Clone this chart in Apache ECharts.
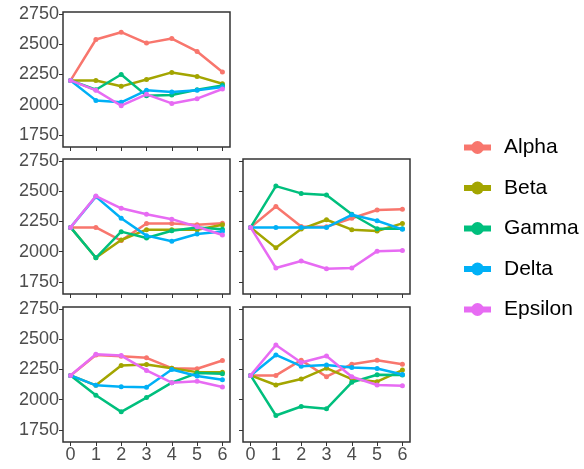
<!DOCTYPE html>
<html>
<head>
<meta charset="utf-8">
<script src="https://cdn.jsdelivr.net/npm/echarts@6/dist/echarts.min.js"></script>
<style>
html,body{margin:0;padding:0;background:#fff;}
#chart{width:584px;height:469px;}
</style>
</head>
<body>
<div id="chart"></div>
<script>
// x positions (time steps) and tick labels
const xValues = [0, 1, 2, 3, 4, 5, 6];
const xTickLabels = [0, 1, 2, 3, 4, 5, 6];
const yTickValues = [1750, 2000, 2250, 2500, 2750];
const seriesNames = ['Alpha', 'Beta', 'Gamma', 'Delta', 'Epsilon'];
const seriesColors = ['#F8766D', '#A3A500', '#00BF7D', '#00B0F6', '#E76BF3'];

// one row per panel: [top-left, middle-left, middle-right, bottom-left, bottom-right]
const alphaValues = [
  [2200, 2538, 2598, 2508, 2546, 2439, 2269],
  [2200, 2200, 2091, 2233, 2233, 2222, 2235],
  [2200, 2372, 2208, 2205, 2276, 2344, 2350],
  [2200, 2369, 2358, 2345, 2260, 2255, 2323],
  [2200, 2200, 2326, 2189, 2293, 2326, 2293]
];
const betaValues = [
  [2200, 2200, 2151, 2208, 2266, 2233, 2173],
  [2200, 1949, 2096, 2181, 2181, 2181, 2222],
  [2200, 2031, 2186, 2263, 2181, 2170, 2233],
  [2200, 2118, 2282, 2290, 2260, 2227, 2227],
  [2200, 2121, 2170, 2260, 2170, 2148, 2244]
];
const gammaValues = [
  [2200, 2123, 2249, 2074, 2079, 2123, 2159],
  [2200, 1949, 2165, 2113, 2173, 2200, 2185],
  [2200, 2541, 2481, 2467, 2309, 2189, 2189],
  [2200, 2036, 1899, 2017, 2140, 2219, 2214],
  [2200, 1869, 1943, 1924, 2143, 2205, 2203]
];
const deltaValues = [
  [2200, 2035, 2019, 2118, 2104, 2118, 2145],
  [2200, 2454, 2276, 2132, 2086, 2145, 2167],
  [2200, 2200, 2200, 2200, 2304, 2255, 2184],
  [2200, 2118, 2107, 2102, 2249, 2195, 2164],
  [2200, 2369, 2276, 2285, 2266, 2257, 2208]
];
const epsilonValues = [
  [2200, 2118, 1991, 2085, 2010, 2049, 2129],
  [2200, 2459, 2358, 2309, 2268, 2205, 2137],
  [2200, 1865, 1922, 1859, 1865, 2004, 2009],
  [2200, 2375, 2364, 2241, 2140, 2151, 2104],
  [2200, 2451, 2307, 2361, 2189, 2121, 2115]
];
const allValues = [alphaValues, betaValues, gammaValues, deltaValues, epsilonValues];

// panel layout
const panels = [
  {left: 63,  top: 12,  showX: false, showY: true},
  {left: 63,  top: 159, showX: false, showY: true},
  {left: 243, top: 159, showX: false, showY: false},
  {left: 63,  top: 307, showX: true,  showY: true},
  {left: 243, top: 307, showX: true,  showY: false}
];
const PW = 167, PH = 135;
const FONT = 'Liberation Sans, Arial, sans-serif';

const grids = [], xAxes = [], yAxes = [], series = [];
panels.forEach((p, i) => {
  grids.push({
    left: p.left, top: p.top, width: PW, height: PH,
    show: true, borderColor: '#333333', borderWidth: 1.5,
    backgroundColor: 'transparent', containLabel: false
  });
  xAxes.push({
    type: 'value', gridIndex: i, min: -0.3, max: 6.3, position: 'bottom',
    axisLine: {show: false, onZero: false},
    splitLine: {show: false},
    axisTick: {show: true, inside: false, length: 4, customValues: xTickLabels, lineStyle: {color: '#333333', width: 1}},
    axisLabel: {show: p.showX, customValues: xTickLabels, margin: 4,
      formatter: v => String(v),
      color: '#4D4D4D', fontSize: 18, fontFamily: FONT}
  });
  yAxes.push({
    type: 'value', gridIndex: i, min: 1650, max: 2765, position: 'left',
    axisLine: {show: false, onZero: false},
    splitLine: {show: false},
    axisTick: {show: true, inside: false, length: 4, customValues: yTickValues, lineStyle: {color: '#333333', width: 1}},
    axisLabel: {show: p.showY, customValues: yTickValues, margin: 4,
      formatter: v => String(v),
      color: '#4D4D4D', fontSize: 18, fontFamily: FONT}
  });
  seriesNames.forEach((name, s) => {
    series.push({
      name: name, type: 'line', xAxisIndex: i, yAxisIndex: i,
      data: xValues.map((x, k) => [x, allValues[s][i][k]]),
      symbol: 'circle', symbolSize: 5,
      lineStyle: {width: 2.5, color: seriesColors[s]},
      itemStyle: {color: seriesColors[s]},
      z: 2 + s, animation: false
    });
  });
});

const chart = echarts.init(document.getElementById('chart'), null, {renderer: 'canvas'});
chart.setOption({
  animation: false,
  color: seriesColors,
  grid: grids,
  xAxis: xAxes,
  yAxis: yAxes,
  legend: {
    orient: 'vertical', left: 461, top: 137, padding: 0,
    itemWidth: 27, itemHeight: 16, itemGap: 19.5,
    data: seriesNames,
    lineStyle: {width: 6},
    textStyle: {fontSize: 21, color: '#000', fontFamily: FONT, padding: [0, 0, 0, 8]}
  },
  series: series
});
</script>
</body>
</html>
